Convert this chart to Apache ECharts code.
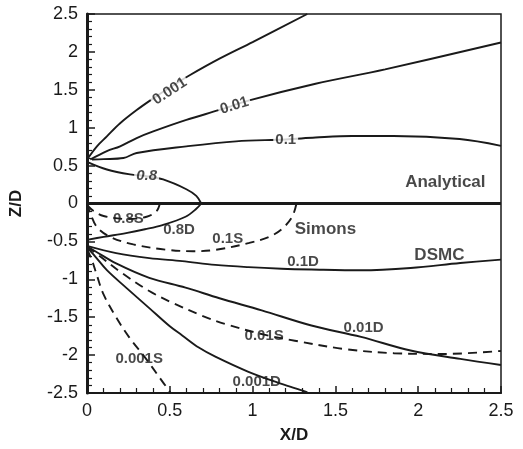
<!DOCTYPE html>
<html>
<head>
<meta charset="utf-8">
<script src="https://cdn.jsdelivr.net/npm/echarts@6/dist/echarts.min.js"></script>
<style>
  html, body { margin: 0; padding: 0; background: #fff; }
  #chart { width: 523px; height: 449px; }
</style>
</head>
<body>
<div id="chart"></div>
<script>
// analytical contours, upper half (solid)
const ana0001 = [[0,0.58],[0.06,0.755],[0.12,0.886],[0.2,1.059],[0.3,1.233],[0.4,1.387],[0.5,1.53],[0.62,1.692],[0.8,1.911],[1.0,2.13],[1.33,2.5]];
const ana001 = [[0.02,0.58],[0.12,0.69],[0.2,0.755],[0.3,0.864],[0.4,0.951],[0.6,1.103],[0.8,1.234],[0.98,1.36],[1.38,1.58],[1.8,1.77],[2.5,2.124]];
const ana01 = [[0.03,0.58],[0.1,0.585],[0.22,0.6],[0.3,0.667],[0.6,0.754],[0.9,0.82],[1.2,0.845],[1.38,0.87],[1.6,0.89],[1.85,0.89],[2.25,0.85],[2.5,0.76]];
const ana08 = [[0,0.55],[0.12,0.449],[0.26,0.384],[0.36,0.361],[0.46,0.317],[0.6,0.188],[0.66,0.1],[0.69,0]];

// Simons contours, lower half (dashed)
const sim08 = [[0,-0.02],[0.04,-0.1],[0.1,-0.165],[0.25,-0.205],[0.36,-0.175],[0.42,-0.1],[0.44,0]];
const sim01 = [[0,0],[0.02,-0.13],[0.06,-0.31],[0.14,-0.44],[0.28,-0.54],[0.48,-0.61],[0.64,-0.63],[0.78,-0.61],[0.98,-0.52],[1.1,-0.44],[1.18,-0.33],[1.24,-0.17],[1.265,0]];
const sim001 = [[0,-0.57],[0.08,-0.7],[0.2,-0.9],[0.376,-1.155],[0.516,-1.31],[0.695,-1.48],[0.835,-1.59],[1.07,-1.73],[1.255,-1.81],[1.555,-1.92],[1.854,-1.975],[2.154,-1.985],[2.5,-1.945]];
const sim0001 = [[0,-0.6],[0.03,-0.75],[0.06,-0.95],[0.1,-1.2],[0.176,-1.5],[0.256,-1.77],[0.35,-2.03],[0.436,-2.29],[0.506,-2.5]];

// DSMC contours, lower half (solid)
const dsmc08 = [[0,-0.48],[0.1,-0.44],[0.236,-0.39],[0.35,-0.34],[0.456,-0.285],[0.595,-0.175],[0.66,-0.07],[0.69,0]];
const dsmc01 = [[0,-0.56],[0.176,-0.655],[0.376,-0.72],[0.575,-0.76],[0.775,-0.81],[0.975,-0.84],[1.175,-0.86],[1.355,-0.87],[1.655,-0.88],[1.954,-0.85],[2.254,-0.785],[2.5,-0.74]];
const dsmc001 = [[0,-0.57],[0.05,-0.63],[0.176,-0.79],[0.376,-0.98],[0.595,-1.11],[0.8,-1.25],[1.055,-1.41],[1.355,-1.61],[1.655,-1.76],[1.954,-1.94],[2.254,-2.05],[2.5,-2.13]];
const dsmc0001 = [[0,-0.58],[0.05,-0.7],[0.12,-0.88],[0.236,-1.11],[0.376,-1.38],[0.5,-1.62],[0.575,-1.74],[0.675,-1.9],[0.775,-2.02],[0.975,-2.22],[1.175,-2.38],[1.315,-2.48],[1.335,-2.5]];

const zeroLine = [[0,0],[2.5,0]];

// text placed in the plot
const labelText = ['0.001','0.01','0.1','0.8','0.8S','0.8D','0.1S','0.1D','0.01D','0.01S','0.001S','0.001D','Analytical','Simons','DSMC'];
const labelX = [0.5,0.89,1.2,0.36,0.25,0.556,0.85,1.305,1.67,1.07,0.315,1.025,2.164,1.44,2.128];
const labelY = [1.48,1.29,0.84,0.36,-0.2,-0.35,-0.46,-0.77,-1.64,-1.74,-2.05,-2.35,0.275,-0.34,-0.69];

const ink = '#1a1a1a';
const font = 'Liberation Sans, Arial, sans-serif';

function curve(data, dashed) {
  return {
    type: 'line',
    data: data,
    smooth: 0.35,
    symbol: 'none',
    silent: true,
    z: 2,
    lineStyle: { color: ink, width: 1.9, type: dashed ? [9, 6] : 'solid' }
  };
}

// label look, by text
function labelStyle(t) {
  let s = { show: true, position: 'inside', formatter: '{b}', color: ink, fontWeight: 'bold',
            fontFamily: font, fontSize: 15 };
  if (t === '0.001') { s.rotate = 33; s.backgroundColor = '#fff'; s.fontSize = 15; s.padding = [0, 2]; }
  if (t === '0.01') { s.rotate = 17; s.backgroundColor = '#fff'; s.fontSize = 15; s.padding = [0, 2]; }
  if (t === '0.1') { s.backgroundColor = '#fff'; s.fontSize = 15; s.padding = [0, 2]; }
  if (t === '0.8') { s.backgroundColor = '#fff'; s.fontSize = 15; s.fontStyle = 'italic'; s.padding = [0, 2]; }
  if (t === 'Analytical' || t === 'Simons' || t === 'DSMC') { s.fontSize = 17; }
  return s;
}

const labelData = labelText.map((t, i) => ({ name: t, value: [labelX[i], labelY[i]], label: labelStyle(t) }));

const chart = echarts.init(document.getElementById('chart'));
chart.setOption({
  animation: false,
  backgroundColor: '#fff',
  grid: { left: 84, right: 22, top: 14, bottom: 53, show: true, borderColor: ink, borderWidth: 1.5, backgroundColor: 'transparent' },
  xAxis: {
    type: 'value', min: 0, max: 2.5, interval: 0.5,
    name: 'X/D', nameLocation: 'middle', nameGap: 34,
    nameTextStyle: { fontSize: 17, fontWeight: 'bold', color: ink, fontFamily: font },
    axisLine: { onZero: false, lineStyle: { color: ink, width: 2 } },
    axisTick: { inside: true, length: 7, lineStyle: { color: ink, width: 1.5 } },
    minorTick: { show: true, splitNumber: 5, length: 5, lineStyle: { color: ink, width: 1.2 } },
    axisLabel: { fontSize: 18, color: ink, margin: 9, fontFamily: font },
    splitLine: { show: false }
  },
  yAxis: {
    type: 'value', min: -2.5, max: 2.5, interval: 0.5,
    name: 'Z/D', nameLocation: 'middle', nameGap: 62, nameRotate: 90,
    nameTextStyle: { fontSize: 17, fontWeight: 'bold', color: ink, fontFamily: font },
    axisLine: { onZero: false, lineStyle: { color: ink, width: 3 } },
    axisTick: { inside: true, length: 8, lineStyle: { color: ink, width: 1.5 } },
    minorTick: { show: true, splitNumber: 5, length: 5, lineStyle: { color: ink, width: 1.2 } },
    axisLabel: { fontSize: 18, color: ink, margin: 9, fontFamily: font },
    splitLine: { show: false }
  },
  series: [
    { type: 'line', data: zeroLine, symbol: 'none', silent: true, z: 3, lineStyle: { color: ink, width: 3 } },
    curve(ana0001), curve(ana001), curve(ana01), curve(ana08),
    curve(sim08, true), curve(sim01, true), curve(sim001, true), curve(sim0001, true),
    curve(dsmc08), curve(dsmc01), curve(dsmc001), curve(dsmc0001),
    {
      type: 'scatter', data: labelData, symbol: 'circle', symbolSize: 1, silent: true, z: 5,
      itemStyle: { color: 'rgba(0,0,0,0)' }
    }
  ]
});
</script>
</body>
</html>
